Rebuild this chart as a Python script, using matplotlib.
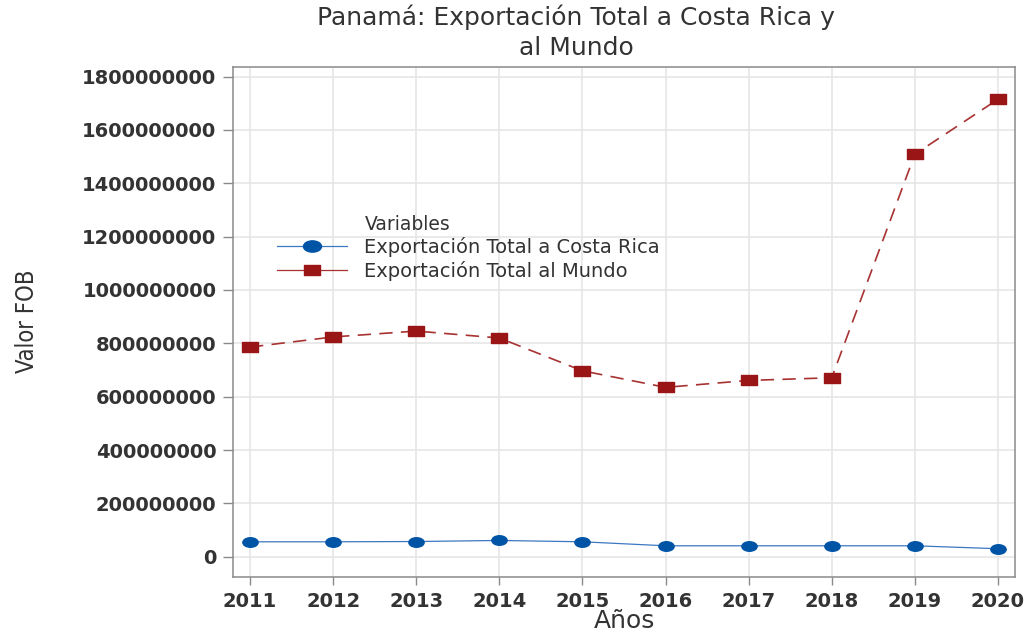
import numpy as np
import matplotlib
matplotlib.use("Agg")
import matplotlib.pyplot as plt
from matplotlib.path import Path
from matplotlib.transforms import Affine2D
from matplotlib.lines import Line2D

# datos
anios = [2011, 2012, 2013, 2014, 2015, 2016, 2017, 2018, 2019, 2020]
export_costa_rica = [56e6, 56e6, 57e6, 61e6, 56e6, 41e6, 41e6, 41e6, 41e6, 30e6]
export_mundo = [786e6, 824e6, 846e6, 820e6, 697e6, 635e6, 661e6, 671e6, 1509e6, 1715e6]
y_ticks = [0, 200e6, 400e6, 600e6, 800e6, 1000e6, 1200e6, 1400e6, 1600e6, 1800e6]

azul = "#0054A6"
azul_linea = "#3C78C2"
rojo = "#9A1515"
rojo_linea = "#A83232"
gris = "#8A8A8A"
texto = "#333333"

# marcadores anchos (la imagen original esta estirada)
circulo = Path.unit_circle().transformed(Affine2D().scale(1.6, 1.0))
rect = Path([(-0.8, -0.5), (0.8, -0.5), (0.8, 0.5), (-0.8, 0.5), (-0.8, -0.5)],
            [Path.MOVETO, Path.LINETO, Path.LINETO, Path.LINETO, Path.CLOSEPOLY])

fig = plt.figure(figsize=(10.29, 6.32), dpi=100)
ax = fig.add_axes([233 / 1029, 55 / 632, 782 / 1029, 510 / 632])

ax.plot(anios, export_costa_rica, color=azul_linea, lw=0.9, marker=circulo,
        markersize=11, markerfacecolor=azul, markeredgecolor=azul, zorder=3)
ax.plot(anios, export_mundo, color=rojo_linea, lw=1.2, dashes=(8, 5), marker=rect,
        markersize=11.5, markerfacecolor=rojo, markeredgecolor=rojo, zorder=3)

ax.set_xlim(2010.795, 2020.205)
ax.set_ylim(-76e6, 1836e6)
ax.set_xticks(anios)
ax.set_yticks(y_ticks)
ax.set_yticklabels([str(int(v)) for v in y_ticks])
ax.grid(True, color="#E6E6E6", lw=1.2)
ax.set_axisbelow(True)

for s in ax.spines.values():
    s.set_color(gris)
    s.set_linewidth(1.1)
ax.tick_params(axis="both", colors=gris, labelcolor=texto, labelsize=14, width=1.0)
ax.tick_params(axis="y", length=7, pad=5)
ax.tick_params(axis="x", length=6, pad=5)
for lab in ax.get_xticklabels() + ax.get_yticklabels():
    lab.set_fontweight("bold")

fig.text(576 / 1029, 1 - 5 / 632, "Panamá: Exportación Total a Costa Rica y\nal Mundo",
         ha="center", va="top", fontsize=18, color=texto, linespacing=1.3)
fig.text(27 / 1029, 1 - 321 / 632, "Valor FOB", rotation=90, ha="center", va="center",
         fontsize=17, color=texto, family="DejaVu Sans", fontstretch="condensed")
fig.text(624 / 1029, 1 - 621 / 632, "Años", ha="center", va="center",
         fontsize=18, color=texto)

# leyenda
fig.text(365 / 1029, 1 - 225 / 632, "Variables", ha="left", va="center",
         fontsize=13.5, color=texto)
handles = [
    Line2D([], [], color=azul_linea, lw=0.9, marker=circulo, markersize=13,
           markerfacecolor=azul, markeredgecolor=azul),
    Line2D([], [], color=rojo_linea, lw=0.9, marker=rect, markersize=11,
           markerfacecolor=rojo, markeredgecolor=rojo),
]
leg = fig.legend(handles, ["Exportación Total a Costa Rica", "Exportación Total al Mundo"],
                 loc="upper left", bbox_to_anchor=(277 / 1029, 1 - 237 / 632),
                 frameon=False, fontsize=14, handlelength=3.6, handletextpad=0.9,
                 labelspacing=0.2, borderpad=0, borderaxespad=0, labelcolor=texto)

fig.savefig("out.png", dpi=100)
